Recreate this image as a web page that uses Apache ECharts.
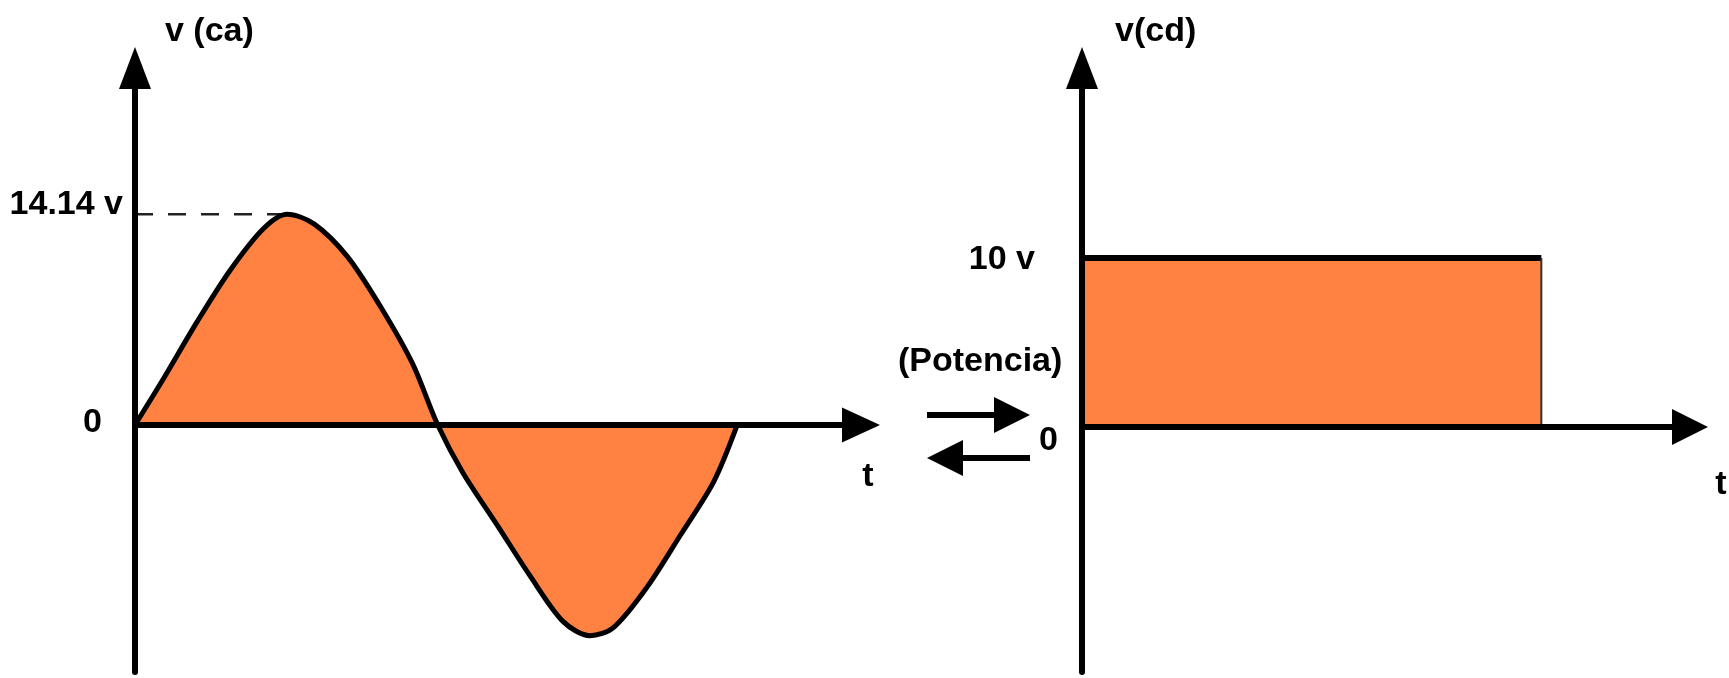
<!DOCTYPE html>
<html>
<head>
<meta charset="utf-8">
<title>v (ca) / v(cd)</title>
<script src="https://cdn.jsdelivr.net/npm/echarts@6/dist/echarts.min.js"></script>
<style>
  html, body { margin: 0; padding: 0; background: #fff; }
  #chart { width: 1729px; height: 678px; }
</style>
</head>
<body>
<div id="chart"></div>
<script>
// alternating voltage (t in degrees, volts)
var waveT = [0, 17, 37, 57, 77, 91, 107, 127, 147, 166, 181, 196, 217, 236, 256, 272, 286, 306, 326, 346, 360];
var waveV = [0, 3.1, 6.9, 10.4, 13.2, 14.14, 13.5, 11.3, 7.9, 4.1, 0, -3.2, -6.8, -10.1, -13.2, -14.14, -13.6, -10.9, -7.4, -3.8, 0];
var peakT = [0, 91];
var peakV = [14.14, 14.14];

// direct voltage
var dcT = [0, 275];
var dcV = [10, 10];

// tick labels
var acTicks = [0, 14.14];
var dcTicks = [0, 10];

// the two "power" arrows (small helper grid, 0..103 wide)
var arrowPaths = [
  [[0, 1], [85, 1]],
  [[103, 0], [18, 0]]
];

var FONT = '"Liberation Sans", Arial, sans-serif';
var ORANGE = '#FF8243';
var FS = 34;

function pairs(xs, ys) {
  return xs.map(function (x, i) { return [x, ys[i]]; });
}

function txt(extra) {
  var s = { fontFamily: FONT, fontSize: FS, fontWeight: 'bold', color: '#000' };
  for (var k in extra) s[k] = extra[k];
  return s;
}

var chart = echarts.init(document.getElementById('chart'));

var axisArrow = function (size) {
  return {
    show: true,
    onZero: true,
    symbol: ['none', 'triangle'],
    symbolSize: size,
    lineStyle: { color: '#000', width: 6 }
  };
};

chart.setOption({
  animation: false,
  title: [{
    text: '(Potencia)',
    left: 898,
    top: 345,
    padding: 0,
    textStyle: txt({})
  }],
  grid: [
    { left: 135, top: 68, width: 726, bottom: 6, outerBoundsMode: 'none' },
    { left: 1082, top: 68, right: 39, bottom: 6, outerBoundsMode: 'none' },
    { left: 927, top: 393.5, width: 103, height: 86, outerBoundsMode: 'none' }
  ],
  xAxis: [
    {
      gridIndex: 0, type: 'value', min: 0, max: 434, z: 5,
      axisLine: axisArrow([35, 38]),
      axisTick: { show: false }, axisLabel: { show: false }, splitLine: { show: false },
      name: '{t|t}', nameLocation: 'end', nameGap: 7,
      nameTextStyle: { align: 'center', verticalAlign: 'middle',
        rich: { t: txt({ padding: [104, 0, 0, 0] }) } }
    },
    {
      gridIndex: 1, type: 'value', min: 0, max: 364, z: 5,
      axisLine: axisArrow([36, 36]),
      axisTick: { show: false }, axisLabel: { show: false }, splitLine: { show: false },
      name: '{t|t}', nameLocation: 'end', nameGap: 31,
      nameTextStyle: { align: 'center', verticalAlign: 'middle',
        rich: { t: txt({ padding: [116, 0, 0, 0] }) } }
    },
    { gridIndex: 2, type: 'value', min: 0, max: 103, show: false }
  ],
  yAxis: [
    {
      gridIndex: 0, type: 'value', min: -16.58, max: 23.96, z: 5,
      axisLine: axisArrow([32, 42]),
      axisTick: { show: false }, splitLine: { show: false },
      axisLabel: {
        customValues: acTicks,
        margin: 12,
        formatter: function (v) { return v === 0 ? '{z|0}' : '{p|' + v + ' v}'; },
        rich: {
          z: txt({ padding: [0, 21, 4, 0] }),
          p: txt({ padding: [0, 0, 20, 0] })
        }
      },
      name: 'v (ca)', nameLocation: 'end', nameGap: 36,
      nameTextStyle: txt({ align: 'left', verticalAlign: 'middle', padding: [0, 0, 0, 30] })
    },
    {
      gridIndex: 1, type: 'value', min: -14.5, max: 21.24, z: 5,
      axisLine: axisArrow([32, 42]),
      axisTick: { show: false }, splitLine: { show: false },
      axisLabel: {
        customValues: dcTicks,
        margin: 24,
        formatter: function (v) { return v === 0 ? '{z|0}' : '{p|' + v + ' v}'; },
        rich: {
          z: txt({ padding: [28, 0, 0, 0] }),
          p: txt({ padding: [4, 23, 0, 0] })
        }
      },
      name: 'v(cd)', nameLocation: 'end', nameGap: 36,
      nameTextStyle: txt({ align: 'left', verticalAlign: 'middle', padding: [0, 0, 0, 33] })
    },
    { gridIndex: 2, type: 'value', min: -0.5, max: 1.5, show: false }
  ],
  series: [
    {
      name: 'v (ca)', type: 'line', xAxisIndex: 0, yAxisIndex: 0,
      data: pairs(waveT, waveV), smooth: 0.3, showSymbol: false,
      lineStyle: { color: '#000', width: 5 },
      areaStyle: { color: ORANGE, opacity: 1 }
    },
    {
      name: 'pico', type: 'line', xAxisIndex: 0, yAxisIndex: 0,
      data: pairs(peakT, peakV), showSymbol: false, z: 1,
      lineStyle: { color: '#222', width: 2.5, type: [18, 15] }
    },
    {
      name: 'v(cd)', type: 'line', xAxisIndex: 1, yAxisIndex: 1,
      data: pairs(dcT, dcV), showSymbol: false,
      lineStyle: { color: '#000', width: 6 },
      areaStyle: { color: ORANGE, opacity: 1 }
    },
    {
      name: 'borde', type: 'line', xAxisIndex: 1, yAxisIndex: 1,
      data: [[dcT[1], 0], [dcT[1], dcV[1]]], showSymbol: false,
      lineStyle: { color: '#333', width: 2 }
    },
    {
      name: 'potencia', type: 'lines', coordinateSystem: 'cartesian2d',
      xAxisIndex: 2, yAxisIndex: 2, clip: false,
      data: arrowPaths.map(function (p) { return { coords: p }; }),
      symbol: ['none', 'triangle'], symbolSize: 36,
      lineStyle: { color: '#000', width: 6, opacity: 1, curveness: 0 }
    }
  ]
});
</script>
</body>
</html>
